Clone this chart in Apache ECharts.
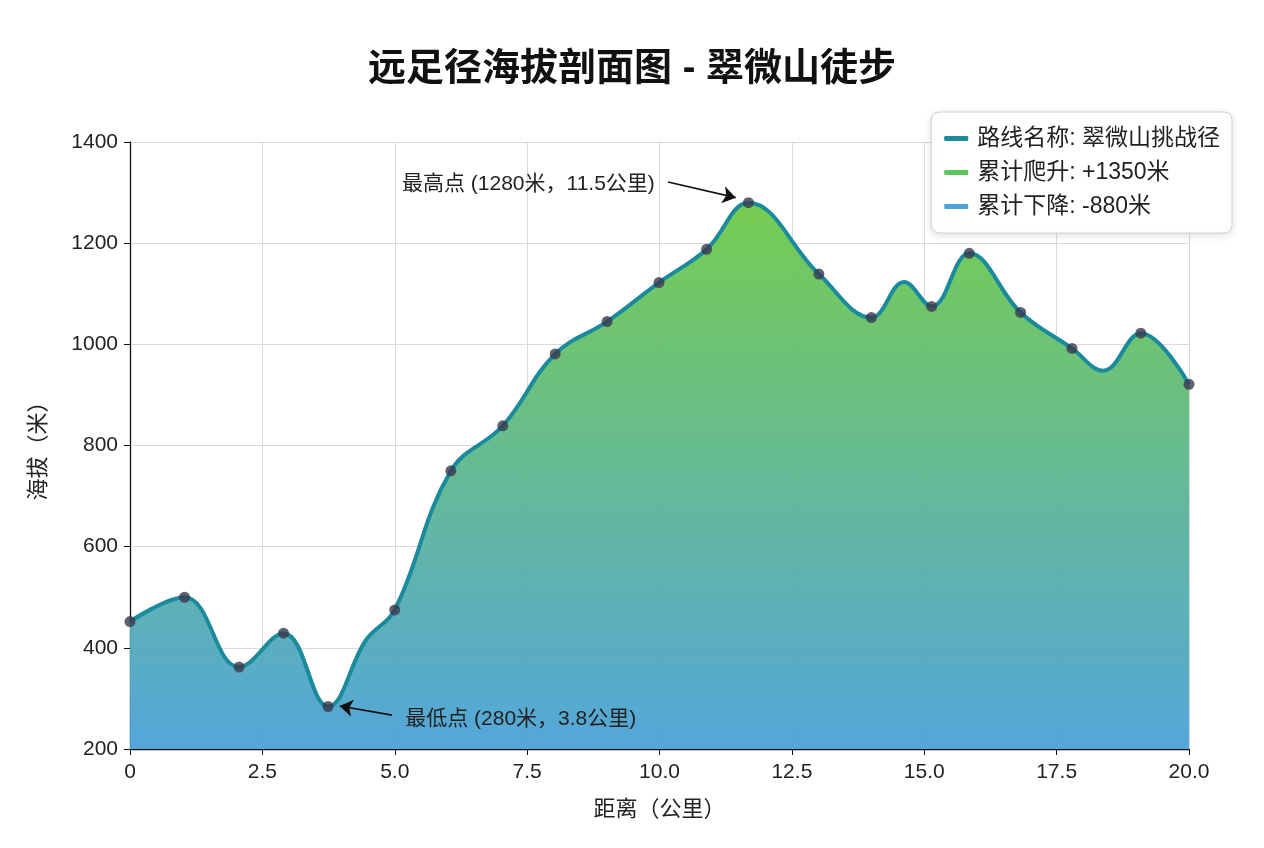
<!DOCTYPE html>
<html>
<head>
<meta charset="utf-8">
<script src="https://cdn.jsdelivr.net/npm/echarts@6/dist/echarts.min.js"></script>
<style>
  html, body { margin: 0; padding: 0; background: #fff; }
  #chart { width: 1264px; height: 848px; }
</style>
</head>
<body>
<div id="chart"></div>
<script>
// surveyed points (drawn as dots)
var pointKm = [0, 1.03, 2.06, 2.9, 3.74, 5.0, 6.06, 7.04, 8.03, 9.01, 9.99, 10.89, 11.68, 13.01, 14.0, 15.14, 15.85, 16.82, 17.79, 19.09, 20];
var pointElev = [452, 500, 362, 429, 284, 475, 750, 839, 981, 1045, 1122, 1188, 1280, 1139, 1053, 1075, 1180, 1063, 992, 1022, 921];
// extra bends of the profile (no dot)
var bendKm = [4.46, 14.62, 18.38];
var bendElev = [416, 1123, 948];

var legendNames = ['路线名称: 翠微山挑战径', '累计爬升: +1350米', '累计下降: -880米'];
var legendColors = ['#1a8a9c', '#5cc75c', '#4aa3d6'];

var xTicks = [0, 2.5, 5, 7.5, 10, 12.5, 15, 17.5, 20];
var yTicks = [200, 400, 600, 800, 1000, 1200, 1400];

var highLabel = '最高点 (1280米，11.5公里)';
var lowLabel = '最低点 (280米，3.8公里)';

var font = "'Liberation Sans', 'Noto Sans CJK SC', sans-serif";

var dots = pointKm.map(function (x, i) { return [x, pointElev[i]]; });
var profile = dots.concat(bendKm.map(function (x, i) { return [x, bendElev[i]]; }))
    .sort(function (a, b) { return a[0] - b[0]; });

var option = {
    backgroundColor: '#fff',
    textStyle: { fontFamily: font, color: '#222' },
    title: {
        text: '远足径海拔剖面图 - 翠微山徒步',
        left: 'center',
        top: 46,
        textStyle: { fontSize: 38, fontWeight: 'bold', color: '#111', fontFamily: font }
    },
    legend: {
        orient: 'vertical',
        right: 32,
        top: 112,
        padding: [15, 12, 15, 13],
        itemGap: 11,
        itemWidth: 24,
        itemHeight: 5,
        icon: 'roundRect',
        backgroundColor: '#fff',
        borderColor: '#d0d0d0',
        borderWidth: 1,
        borderRadius: 8,
        shadowColor: 'rgba(0,0,0,0.12)',
        shadowBlur: 8,
        shadowOffsetY: 2,
        textStyle: { fontSize: 23, color: '#222', fontFamily: font, padding: [0, 0, 0, 4] },
        data: legendNames.map(function (n, i) {
            return { name: n, itemStyle: { color: legendColors[i] } };
        })
    },
    grid: { left: 130, right: 75, top: 142, bottom: 99 },
    xAxis: {
        type: 'value',
        min: xTicks[0],
        max: xTicks[xTicks.length - 1],
        interval: 2.5,
        name: '距离（公里）',
        nameLocation: 'middle',
        nameGap: 50,
        nameTextStyle: { fontSize: 22, color: '#222' },
        axisLine: { lineStyle: { color: '#111', width: 1.3 } },
        axisTick: { show: true, length: 6, lineStyle: { color: '#111' } },
        axisLabel: {
            fontSize: 21, color: '#222', margin: 13,
            formatter: function (v) { return v === 0 ? '0' : v.toFixed(1); }
        },
        splitLine: { show: true, lineStyle: { color: '#dadada', width: 1 } }
    },
    yAxis: {
        type: 'value',
        min: yTicks[0],
        max: yTicks[yTicks.length - 1],
        interval: 200,
        name: '海拔（米）',
        nameLocation: 'middle',
        nameGap: 80,
        nameRotate: 90,
        nameTextStyle: { fontSize: 22, color: '#222' },
        axisLine: { show: true, lineStyle: { color: '#111', width: 1.3 } },
        axisTick: { show: true, length: 6, lineStyle: { color: '#111' } },
        axisLabel: { fontSize: 21, color: '#222', margin: 12, formatter: function (v) { return String(v); } },
        splitLine: { show: true, lineStyle: { color: '#dadada', width: 1 } }
    },
    series: [
        {
            name: legendNames[0],
            type: 'line',
            data: profile,
            smooth: 0.4,
            showSymbol: false,
            symbol: 'none',
            z: 3,
            lineStyle: { color: legendColors[0], width: 4 },
            itemStyle: { color: legendColors[0] },
            areaStyle: {
                origin: 'start',
                opacity: 0.95,
                color: new echarts.graphic.LinearGradient(0, 0, 0, 1, [
                    { offset: 0, color: '#6fca48' },
                    { offset: 1, color: '#4ba2d8' }
                ])
            }
        },
        {
            name: legendNames[1], type: 'line', data: [],
            itemStyle: { color: legendColors[1] }, lineStyle: { color: legendColors[1] }
        },
        {
            name: legendNames[2], type: 'line', data: [],
            itemStyle: { color: legendColors[2] }, lineStyle: { color: legendColors[2] }
        },
        {
            name: '测点',
            type: 'scatter',
            data: dots,
            symbolSize: 11,
            z: 5,
            itemStyle: { color: '#383a4f' },
            markLine: {
                silent: true,
                symbol: ['none', 'arrow'],
                symbolSize: 13,
                label: { show: false },
                lineStyle: { color: '#111', width: 1.6, type: 'solid' },
                data: [
                    [{ coord: [10.16, 1321] }, { coord: [11.44, 1290] }],
                    [{ coord: [4.95, 267] }, { coord: [3.96, 285] }]
                ]
            },
            markPoint: {
                silent: true,
                symbol: 'circle',
                symbolSize: 0,
                data: [
                    { coord: [9.95, 1316], label: { show: true, position: 'left', distance: 2, formatter: highLabel, fontSize: 21, color: '#222' } },
                    { coord: [5.16, 259], label: { show: true, position: 'right', distance: 2, formatter: lowLabel, fontSize: 21, color: '#222' } }
                ]
            }
        }
    ]
};

var myChart = echarts.init(document.getElementById('chart'));
myChart.setOption(option);
</script>
</body>
</html>
